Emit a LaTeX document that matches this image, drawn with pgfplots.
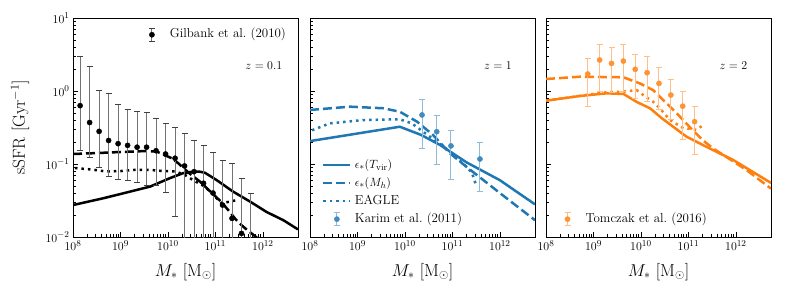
\documentclass[border=0pt]{standalone}
\usepackage{pgfplots}
\pgfplotsset{compat=1.18}
\definecolor{tabblue}{HTML}{1F77B4}
\definecolor{taborange}{HTML}{FF7F0E}
\newcommand{\fs}{\fontsize{13}{15.6}\selectfont}
\newcommand{\fl}{\fontsize{17.5}{21}\selectfont}
\tikzset{
  sol/.style={line width=2.5bp},
  das/.style={line width=2.5bp, dash pattern=on 9bp off 4bp},
  dtt/.style={line width=2.5bp, dash pattern=on 2.5bp off 4bp},
}
\begin{document}
\begin{tikzpicture}
\useasboundingbox (0,0) rectangle (789bp,296bp);
% ---------------- Panel 1: z = 0.1
\begin{axis}[at={(73bp,59bp)}, anchor=south west,
    xmode=log, ymode=log,
    scale only axis, width=225bp, height=219bp,
    xmin=1e8, xmax=5.5e12, ymin=1e-2, ymax=10,
    xtick={1e8,1e9,1e10,1e11,1e12},
    ytick={1e-2,1e-1,1,10},
    tick pos=left, tick align=inside,
    major tick length=5bp, minor tick length=2.8bp,
    tick style={black, line width=0.7bp},
    axis line style={line width=0.9bp},
    tick label style={font=\fs},
    xlabel={$M_*$ [M$_\odot$]},
    xlabel style={font=\fl, at={(axis description cs:0.5,-0.16)}, anchor=center},
    ylabel={sSFR [Gyr$^{-1}$]},
    ylabel style={font=\fl, at={(axis description cs:-0.2356,0.5)}, anchor=center},
    legend style={draw=none, fill=none, font=\fs, inner sep=0pt, outer sep=0pt,
      nodes={inner sep=1.5bp, text height=9.5bp, text depth=3.5bp}, row sep=2bp,
      at={(0.953,0.96)}, anchor=north east},
    legend cell align=left]
\addplot[black, sol, forget plot] coordinates {
 (1e8,0.0274) (4.4e8,0.034) (4.2e9,0.049) (1.1e10,0.064) (2.1e10,0.075) (3.4e10,0.0786)
 (4.6e10,0.0786) (6e10,0.076) (1.07e11,0.060) (2.34e11,0.042) (5.4e11,0.0305)
 (1.2e12,0.022) (2.7e12,0.017) (5.5e12,0.0127)};
\addplot[black, das, forget plot] coordinates {
 (1e8,0.137) (3e8,0.141) (1e9,0.146) (3e9,0.150) (5.8e9,0.148) (1.2e10,0.12) (1.66e10,0.102)
 (2.8e10,0.075) (4.7e10,0.0575) (6.5e10,0.047) (1.35e11,0.030) (1.86e11,0.0234)
 (2.57e11,0.018) (3.55e11,0.0145) (4.6e11,0.0126) (6.3e11,0.0107) (8e11,0.0095) (1.2e12,0.007)};
\addplot[black, dtt, forget plot] coordinates {
 (1.1e8,0.088) (2.5e8,0.084) (5e8,0.079) (1e9,0.080) (2e9,0.083) (4.2e9,0.083) (8e9,0.080)
 (1.4e10,0.079) (2.2e10,0.072) (3.4e10,0.060) (6e10,0.049) (9e10,0.038) (1.35e11,0.029)
 (2.0e11,0.0305) (2.8e11,0.032)};
\addplot[only marks, mark=*, mark size=2.6bp, black,
  legend image code/.code={
    \path[draw=none, fill=none] (0bp,0bp) -- (30bp,0bp);
    \draw[black!55, line width=1bp] (13.5bp,-6.7bp) -- (13.5bp,6.7bp);
    \draw[black!75, line width=1bp] (10.5bp,-6.7bp) -- (16.5bp,-6.7bp) (10.5bp,6.7bp) -- (16.5bp,6.7bp);
    \fill[black] (13.5bp,0bp) circle (2.6bp);},
  error bars/.cd, y dir=both, y explicit,
  error bar style={line width=1bp, black!55},
  error mark options={rotate=90, mark size=3bp, line width=1bp, black!75}]
coordinates {
 (1.413e8,0.63) += (0,2.37) -= (0,0.478)
 (2.239e8,0.37) += (0,1.78) -= (0,0.246)
 (3.548e8,0.28) += (0,0.75) -= (0,0.191)
 (5.623e8,0.21) += (0,0.70) -= (0,0.142)
 (8.913e8,0.19) += (0,0.47) -= (0,0.128)
 (1.413e9,0.18) += (0,0.37) -= (0,0.121)
 (2.239e9,0.17) += (0,0.36) -= (0,0.114)
 (3.548e9,0.17) += (0,0.33) -= (0,0.119)
 (5.623e9,0.152) += (0,0.268) -= (0,0.101)
 (8.913e9,0.137) += (0,0.223) -= (0,0.096)
 (1.413e10,0.12) += (0,0.20) -= (0,0.101)
 (2.239e10,0.094) += (0,0.166) -= (0,0.089)
 (3.548e10,0.0785) += (0,0.131) -= (0,0.074)
 (5.623e10,0.0545) += (0,0.125) -= (0,0.05)
 (8.913e10,0.040) += (0,0.103) -= (0,0.035)
 (1.413e11,0.0274) += (0,0.084) -= (0,0.023)
 (2.239e11,0.018) += (0,0.083) -= (0,0.013)
 (3.548e11,0.0112) += (0,0.052) -= (0,0.0065)
 (5.623e11,0.007) += (0,0.033) -= (0,0.0035)};
\addlegendentry{Gilbank et al.\ (2010)}
\node[font=\fs] at (rel axis cs:0.848,0.781) {$z = 0.1$};
\end{axis}
% ---------------- Panel 2: z = 1
\begin{axis}[at={(310bp,59bp)}, anchor=south west,
    xmode=log, ymode=log,
    scale only axis, width=225bp, height=219bp,
    xmin=1e8, xmax=5.5e12, ymin=1e-2, ymax=10,
    xtick={1e8,1e9,1e10,1e11,1e12},
    ytick={1e-2,1e-1,1,10}, yticklabels={},
    tick pos=left, tick align=inside,
    major tick length=5bp, minor tick length=2.8bp,
    tick style={black, line width=0.7bp},
    axis line style={line width=0.9bp},
    tick label style={font=\fs},
    xlabel={$M_*$ [M$_\odot$]},
    xlabel style={font=\fl, at={(axis description cs:0.5,-0.16)}, anchor=center},
    legend style={draw=none, fill=none, font=\fs, inner sep=0pt, outer sep=0pt,
      nodes={inner sep=1.5bp, text height=9.5bp, text depth=3.5bp}, row sep=2bp,
      at={(0.054,0.045)}, anchor=south west},
    legend cell align=left,
    legend image code/.code={\path[draw=none, fill=none] (0bp,0bp) -- (30bp,0bp); \draw[#1] (0bp,0bp) -- (27bp,0bp);}]
\addplot[tabblue, sol] coordinates {
 (1e8,0.206) (7.8e9,0.324) (2.2e10,0.25) (5.5e10,0.182) (2e11,0.105) (1e12,0.060) (5.5e12,0.028)};
\addlegendentry{$\epsilon_*(T_{\rm vir})$}
\addplot[tabblue, das] coordinates {
 (1e8,0.55) (7e8,0.61) (3.5e9,0.58) (7.8e9,0.52) (1.8e10,0.38) (3.9e10,0.25) (8.9e10,0.14)
 (2e11,0.091) (1e12,0.040) (5.5e12,0.017)};
\addlegendentry{$\epsilon_*(M_h)$}
\addplot[tabblue, dtt] coordinates {
 (1.1e8,0.29) (2.6e8,0.36) (1.3e9,0.40) (7.8e9,0.41) (1.4e10,0.36) (3.9e10,0.22)
 (8.9e10,0.148) (2e11,0.091) (2.6e11,0.075) (3.2e11,0.05)};
\addlegendentry{EAGLE}
\addplot[only marks, mark=*, mark size=2.6bp, tabblue!85!white,
  legend image code/.code={
    \path[draw=none, fill=none] (0bp,0bp) -- (30bp,0bp);
    \draw[tabblue!50!white, line width=1bp] (13.5bp,-6.7bp) -- (13.5bp,6.7bp);
    \draw[tabblue!50!white, line width=1bp] (10.5bp,-6.7bp) -- (16.5bp,-6.7bp) (10.5bp,6.7bp) -- (16.5bp,6.7bp);
    \fill[tabblue!85!white] (13.5bp,0bp) circle (2.6bp);},
  error bars/.cd, y dir=both, y explicit,
  error bar style={line width=1bp, tabblue!50!white},
  error mark options={rotate=90, mark size=3bp, line width=1bp, tabblue!50!white}]
coordinates {
 (2.291e10,0.47) += (0,0.30) -= (0,0.306)
 (4.677e10,0.277) += (0,0.183) -= (0,0.178)
 (9.333e10,0.177) += (0,0.109) -= (0,0.115)
 (3.802e11,0.117) += (0,0.078) -= (0,0.075)};
\addlegendentry{Karim et al.\ (2011)}
\node[font=\fs] at (rel axis cs:0.835,0.781) {$z = 1$};
\end{axis}
% ---------------- Panel 3: z = 2
\begin{axis}[at={(546bp,59bp)}, anchor=south west,
    xmode=log, ymode=log,
    scale only axis, width=225bp, height=219bp,
    xmin=1e8, xmax=5.5e12, ymin=1e-2, ymax=10,
    xtick={1e8,1e9,1e10,1e11,1e12},
    ytick={1e-2,1e-1,1,10}, yticklabels={},
    tick pos=left, tick align=inside,
    major tick length=5bp, minor tick length=2.8bp,
    tick style={black, line width=0.7bp},
    axis line style={line width=0.9bp},
    tick label style={font=\fs},
    xlabel={$M_*$ [M$_\odot$]},
    xlabel style={font=\fl, at={(axis description cs:0.5,-0.16)}, anchor=center},
    legend style={draw=none, fill=none, font=\fs, inner sep=0pt, outer sep=0pt,
      nodes={inner sep=1.5bp, text height=9.5bp, text depth=3.5bp}, row sep=2bp,
      at={(0.0356,0.045)}, anchor=south west},
    legend cell align=left]
\addplot[taborange, sol, forget plot] coordinates {
 (1e8,0.735) (5.2e8,0.855) (1.9e9,0.93) (4.3e9,0.91) (8.1e9,0.71) (1.55e10,0.58)
 (2.8e10,0.42) (9.1e10,0.237) (3.3e11,0.155) (8.7e11,0.114) (5.5e12,0.055)};
\addplot[taborange, das, forget plot] coordinates {
 (1e8,1.46) (5.2e8,1.57) (4.3e9,1.54) (9.5e9,1.27) (1.8e10,1.03) (5.6e10,0.50)
 (1.07e11,0.32) (2.04e11,0.21) (3.3e11,0.164) (1.66e12,0.083) (5.5e12,0.046)};
\addplot[taborange, dtt, forget plot] coordinates {
 (1e8,0.74) (3.2e8,0.82) (8.5e8,0.90) (1.9e9,0.96) (4.3e9,0.98) (8.1e9,1.03) (1.12e10,0.88)
 (1.82e10,0.71) (2.5e10,0.58) (4.1e10,0.40) (7.8e10,0.31) (1.48e11,0.295) (1.9e11,0.33)};
\addplot[only marks, mark=*, mark size=2.6bp, taborange!85!white,
  legend image code/.code={
    \path[draw=none, fill=none] (0bp,0bp) -- (30bp,0bp);
    \draw[taborange!50!white, line width=1bp] (13.5bp,-6.7bp) -- (13.5bp,6.7bp);
    \draw[taborange!50!white, line width=1bp] (10.5bp,-6.7bp) -- (16.5bp,-6.7bp) (10.5bp,6.7bp) -- (16.5bp,6.7bp);
    \fill[taborange!85!white] (13.5bp,0bp) circle (2.6bp);},
  error bars/.cd, y dir=both, y explicit,
  error bar style={line width=1bp, taborange!50!white},
  error mark options={rotate=90, mark size=3bp, line width=1bp, taborange!50!white}]
coordinates {
 (7.586e8,1.71) += (0,1.09) -= (0,1.10)
 (1.349e9,2.66) += (0,1.74) -= (0,1.68)
 (2.399e9,2.39) += (0,1.51) -= (0,1.44)
 (4.266e9,2.57) += (0,1.70) -= (0,1.58)
 (7.586e9,1.98) += (0,1.22) -= (0,1.19)
 (1.349e10,1.78) += (0,1.17) -= (0,1.07)
 (2.399e10,1.27) += (0,0.82) -= (0,0.72)
 (4.266e10,0.88) += (0,0.57) -= (0,0.47)
 (7.586e10,0.62) += (0,0.38) -= (0,0.40)
 (1.349e11,0.38) += (0,0.23) -= (0,0.247)};
\addlegendentry{Tomczak et al.\ (2016)}
\node[font=\fs] at (rel axis cs:0.833,0.781) {$z = 2$};
\end{axis}
\end{tikzpicture}
\end{document}
